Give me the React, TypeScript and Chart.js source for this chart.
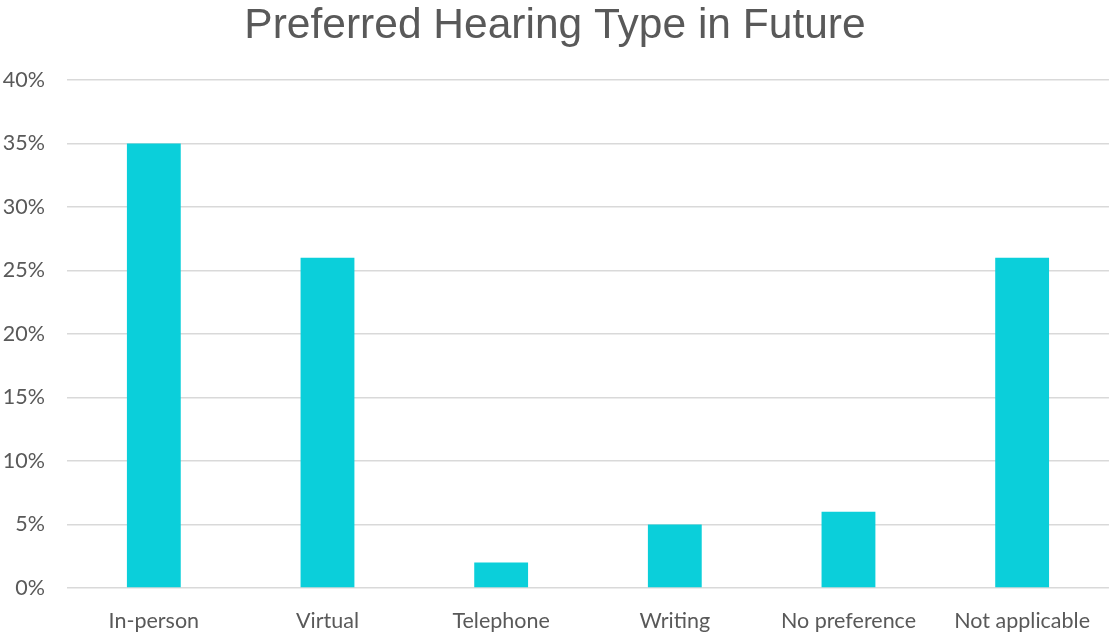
import React, { useEffect, useRef } from "react";
import { Chart, registerables } from "chart.js";

Chart.register(...registerables);

const categories = ["In-person", "Virtual", "Telephone", "Writing", "No preference", "Not applicable"];
const values = [35, 26, 2, 5, 6, 26];
const yTicks = [0, 5, 10, 15, 20, 25, 30, 35, 40];
const titleText = "Preferred Hearing Type in Future";

export default function App() {
  const ref = useRef<HTMLCanvasElement>(null);
  useEffect(() => {
    if (!ref.current) return;
    const chart = new Chart(ref.current, {
      type: "bar",
      data: {
        labels: categories,
        datasets: [
          {
            data: values,
            backgroundColor: "#0BCFDA",
            barPercentage: 0.62,
            categoryPercentage: 0.5,
          },
        ],
      },
      options: {
        animation: false,
        responsive: false,
        maintainAspectRatio: false,
        layout: { padding: { top: 0, right: 0, bottom: 0, left: 0 } },
        plugins: {
          legend: { display: false },
          tooltip: { enabled: false },
          title: {
            display: true,
            text: titleText,
            color: "#595959",
            font: { family: "'Liberation Sans', Arial, sans-serif", size: 42.5, weight: "normal", lineHeight: 1.2 },
            padding: { top: 1, bottom: 28 },
          },
        },
        scales: {
          x: {
            grid: { display: false, drawTicks: false },
            border: { display: false },
            ticks: {
              color: "#595959",
              font: { family: "Lato, sans-serif", size: 21.5 },
              padding: 20,
              maxRotation: 0,
              autoSkip: false,
            },
            afterFit: (s: any) => {
              s.height = 44;
            },
          },
          y: {
            min: 0,
            max: 40,
            afterBuildTicks: (s: any) => {
              s.ticks = yTicks.map((v) => ({ value: v }));
            },
            grid: { color: "#D9D9D9", lineWidth: 1.5, drawTicks: false },
            border: { display: false },
            ticks: {
              color: "#595959",
              font: { family: "Lato, sans-serif", size: 21.5 },
              padding: 22,
              callback: (v: any) => v + "%",
            },
            afterFit: (s: any) => {
              s.width = 67;
            },
          },
        },
      },
    });
    return () => chart.destroy();
  }, []);
  return (
    <div style={{ position: "absolute", left: 0, top: 0, width: 1110, height: 632, background: "#fff" }}>
      <canvas ref={ref} width={1110} height={632} style={{ width: 1110, height: 632 }} />
    </div>
  );
}
